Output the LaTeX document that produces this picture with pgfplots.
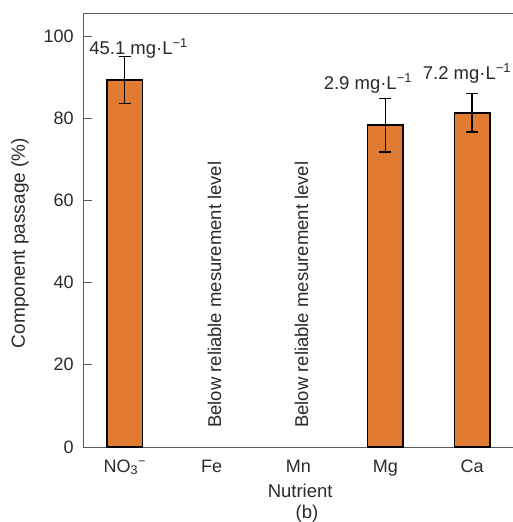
\documentclass[border=0pt]{standalone}
\usepackage{fontspec}
\setmainfont{Liberation Sans}
\usepackage{pgfplots}
\pgfplotsset{compat=1.18}
\definecolor{barorange}{HTML}{E07B31}
\definecolor{txt}{HTML}{2A2A2A}
\definecolor{axgray}{HTML}{5A5A5A}
\begin{document}
\fontsize{18.5}{21}\selectfont
\begin{tikzpicture}
\begin{axis}[
  scale only axis,
  clip=false,
  width=430pt, height=434pt,
  xmin=-0.48, xmax=4.47,
  ymin=0, ymax=105.6,
  axis x line=box, axis y line=left,
  axis line style={-, draw=axgray, line width=0.9pt},
  ytick={0,20,40,60,80,100},
  ytick pos=left,
  tick align=inside,
  major tick length=9pt,
  major y tick style={draw=axgray, line width=0.9pt},
  xtick={0,1,2,3,4},
  xticklabels={NO\textsubscript{3}\textsuperscript{−},Fe,Mn,Mg,Ca},
  major x tick style={draw=none},
  xtick pos=bottom,
  /pgf/number format/assume math mode=true,
  tick label style={text=txt, font=\fontsize{18}{20}\selectfont},
  xticklabel style={anchor=base, yshift=-16pt},
  yticklabel style={xshift=-3pt},
  ylabel={Component passage (\%)},
  every axis y label/.style={at={(axis description cs:0,0.47)}, xshift=-63pt, rotate=90, anchor=center, text=txt, font=\fontsize{19}{21}\selectfont},
  xlabel={Nutrient},
  every axis x label/.style={at={(axis description cs:0.505,0)}, yshift=-50pt, anchor=base, text=txt},
  ybar, bar width=0.41, bar shift=0pt,
]
\addplot[fill=barorange, draw=black, line width=1.6pt,
  error bars/.cd, y dir=both, y explicit,
  error bar style={line width=1.4pt, black},
  error mark options={rotate=90, mark size=6pt, line width=1.4pt, black}]
  coordinates {
    (0,89.3) +- (0,5.7)
    (3,78.3) +- (0,6.5)
    (4,81.3) +- (0,4.7)
  };
\node[anchor=base, inner sep=0, text=txt] at (axis cs:0.16,95.6) {45.1 mg·L\textsuperscript{−1}};
\node[anchor=base, inner sep=0, text=txt] at (axis cs:2.80,87.1) {2.9 mg·L\textsuperscript{−1}};
\node[anchor=base, inner sep=0, text=txt] at (axis cs:3.94,89.5) {7.2 mg·L\textsuperscript{−1}};
\node[rotate=90, anchor=west, inner sep=0, text=txt] at (axis cs:1.035,4.6) {Below reliable mesurement level};
\node[rotate=90, anchor=west, inner sep=0, text=txt] at (axis cs:2.035,4.6) {Below reliable mesurement level};
\node[anchor=base, inner sep=0, text=txt, yshift=-71pt] at (rel axis cs:0.521,0) {(b)};
\coordinate (BL) at (rel axis cs:0,0);
\coordinate (TR) at (rel axis cs:1,1);
\end{axis}
\pgfresetboundingbox
\useasboundingbox ([shift={(-83pt,-75pt)}]BL) rectangle ([shift={(0pt,13pt)}]TR);
\end{tikzpicture}
\end{document}
